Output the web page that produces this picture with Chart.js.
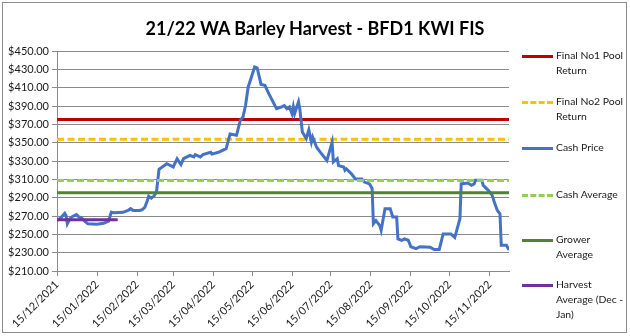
<!DOCTYPE html>
<html>
<head>
<meta charset="utf-8">
<script src="https://cdn.jsdelivr.net/npm/chart.js@4.4.1/dist/chart.umd.min.js"></script>
<style>
  html, body { margin: 0; padding: 0; background: #fff; }
  #wrap { position: relative; width: 630px; height: 336px; font-family: Lato, "Open Sans", sans-serif; }
  #frame { position: absolute; left: 2px; top: 2px; width: 623px; height: 329px; border: 1px solid #8c8c8c; pointer-events: none; }
  #title { position: absolute; left: 0; top: 17px; width: 630px; text-align: center; font-size: 18px; line-height: 22px; font-weight: bold; color: #000; }
  #legend { position: absolute; left: 522px; top: 0; width: 108px; }
  .item { position: absolute; left: 0; width: 106px; }
  .swatch { position: absolute; left: 0; width: 31px; height: 0; }
  .text { position: absolute; left: 34px; width: 72px; font-size: 10.4px; line-height: 15px; color: #1a1a1a; }
</style>
</head>
<body>
<div id="wrap">
  <canvas id="barleyChart" width="630" height="336"></canvas>
  <div id="title"></div>
  <div id="legend"></div>
  <div id="frame"></div>
</div>
<script>
const chartTitle = "21/22 WA Barley Harvest - BFD1 KWI FIS";

// cash price, read daily-ish through the season
const cashDates = [
  "2021-12-15", "2021-12-18", "2021-12-21", "2021-12-22", "2021-12-23", "2021-12-25",
  "2021-12-27", "2021-12-30", "2022-01-01", "2022-01-03", "2022-01-06", "2022-01-08",
  "2022-01-15", "2022-01-20", "2022-01-24", "2022-01-26", "2022-01-28", "2022-02-04",
  "2022-02-08", "2022-02-10", "2022-02-12", "2022-02-17", "2022-02-19", "2022-02-21",
  "2022-02-23", "2022-02-24", "2022-02-26", "2022-02-28", "2022-03-02", "2022-03-04",
  "2022-03-10", "2022-03-15", "2022-03-18", "2022-03-21", "2022-03-23", "2022-03-28",
  "2022-03-31", "2022-04-01", "2022-04-05", "2022-04-07", "2022-04-13", "2022-04-14",
  "2022-04-19", "2022-04-25", "2022-04-28", "2022-05-03", "2022-05-06", "2022-05-08",
  "2022-05-10", "2022-05-12", "2022-05-15", "2022-05-17", "2022-05-19", "2022-05-22",
  "2022-05-25", "2022-05-28", "2022-06-03", "2022-06-07", "2022-06-09", "2022-06-11",
  "2022-06-13", "2022-06-15", "2022-06-16", "2022-06-17", "2022-06-20", "2022-06-21",
  "2022-06-23", "2022-06-26", "2022-06-28", "2022-06-30", "2022-07-01", "2022-07-04",
  "2022-07-07", "2022-07-12", "2022-07-16", "2022-07-17", "2022-07-20", "2022-07-21",
  "2022-07-25", "2022-07-26", "2022-07-27", "2022-07-31", "2022-08-03", "2022-08-08",
  "2022-08-10", "2022-08-14", "2022-08-16", "2022-08-17", "2022-08-19", "2022-08-22",
  "2022-08-23", "2022-08-26", "2022-08-30", "2022-09-01", "2022-09-04", "2022-09-05",
  "2022-09-08", "2022-09-10", "2022-09-13", "2022-09-15", "2022-09-19", "2022-09-22",
  "2022-09-30", "2022-10-03", "2022-10-07", "2022-10-10", "2022-10-16", "2022-10-19",
  "2022-10-23", "2022-10-24", "2022-10-29", "2022-11-01", "2022-11-03", "2022-11-04",
  "2022-11-09", "2022-11-10", "2022-11-14", "2022-11-17", "2022-11-19", "2022-11-21",
  "2022-11-23", "2022-11-24", "2022-11-28", "2022-11-30"
];
const cashPrices = [
  265, 268, 273, 270.5, 261.5, 267,
  269.5, 271.5, 269, 268, 263.5, 261.5,
  261, 262, 264.5, 274, 273.5, 274,
  276, 278, 276, 276, 277, 279.5,
  287, 291.5, 289.5, 291.5, 296, 321,
  327, 323.5, 332.5, 326, 332.5, 336,
  334.5, 337, 334.5, 337, 339.5, 337.5,
  339.5, 343.5, 359.5, 358, 374.5, 378,
  390.5, 410.5, 423.5, 432.5, 431.5, 413.5,
  412.5, 403.5, 387, 389, 390.5, 387,
  389, 381.5, 389, 381.5, 394.5, 387,
  361.5, 354.5, 364, 350.5, 356, 345,
  339.5, 330.5, 350.5, 329, 332.5, 325,
  323.5, 320, 321.5, 316, 310.5, 310.5,
  307, 305, 300, 261.5, 265, 259.5,
  254.5, 278, 278, 269, 269, 245,
  243.5, 245, 243.5, 236.5, 234.5, 236.5,
  236, 233.5, 233.5, 250.5, 250.5, 246.5,
  267, 305, 306, 303.5, 305, 309,
  309, 303.5, 298, 292.5, 283.5, 276,
  272.5, 238, 238, 233
];

// flat reference levels
const poolNo1Return = 375.2;
const poolNo2Return = 353.6;
const cashAverage = 308.6;
const growerAverage = 295.5;
const harvestAverage = 266;
const harvestPeriod = ["2021-12-15", "2022-01-31"];
const seasonRange = ["2021-12-15", "2022-11-30"];

const xTickDates = [
  "2021-12-15", "2022-01-15", "2022-02-15", "2022-03-15", "2022-04-15", "2022-05-15",
  "2022-06-15", "2022-07-15", "2022-08-15", "2022-09-15", "2022-10-15", "2022-11-15"
];
const yTicks = [210, 230, 250, 270, 290, 310, 330, 350, 370, 390, 410, 430, 450];

const seriesNames = [
  "Final No1 Pool Return", "Final No2 Pool Return", "Cash Price",
  "Cash Average", "Grower Average", "Harvest Average (Dec - Jan)"
];

// days since the first date, so the x axis can stay linear
const DAY = 86400000;
const start = Date.parse(seasonRange[0]);
function dayOf(iso) { return Math.round((Date.parse(iso) - start) / DAY); }
function fmtDate(iso) {
  let p = iso.split("-");
  return p[2] + "/" + p[1] + "/" + p[0];
}
function flat(range, value) {
  return range.map(d => ({ x: dayOf(d), y: value }));
}

const cashPoints = cashDates.map((d, i) => ({ x: dayOf(d), y: cashPrices[i] }));
const xTickDays = xTickDates.map(dayOf);

const gridGrey = "#8a8a8a";
const fontFamily = "Lato, 'Open Sans', sans-serif";

document.getElementById("title").textContent = chartTitle;

let datasets = [
  { label: seriesNames[0], data: flat(seasonRange, poolNo1Return), borderColor: "#C00000", order: 6 },
  { label: seriesNames[1], data: flat(seasonRange, poolNo2Return), borderColor: "#FFC000", borderDash: [7, 3.5], order: 5 },
  { label: seriesNames[2], data: cashPoints, borderColor: "#4472C4", order: 4 },
  { label: seriesNames[3], data: flat(seasonRange, cashAverage), borderColor: "#92D050", borderDash: [7, 3], order: 3 },
  { label: seriesNames[4], data: flat(seasonRange, growerAverage), borderColor: "#548235", order: 2 },
  { label: seriesNames[5], data: flat(harvestPeriod, harvestAverage), borderColor: "#7030A0", order: 1 },
];
datasets.forEach(ds => {
  ds.borderWidth = 3;
  ds.pointRadius = 0;
  ds.tension = 0;
  ds.fill = false;
  ds.backgroundColor = ds.borderColor;
});

var ctx = document.getElementById("barleyChart").getContext("2d");
var myChart = new Chart(ctx, {
  type: "line",
  data: { datasets: datasets },
  options: {
    responsive: false,
    animation: false,
    layout: { padding: { left: 0, right: 121, top: 51, bottom: 0 } },
    plugins: {
      legend: { display: false },
      tooltip: { enabled: false },
      title: { display: false },
    },
    scales: {
      x: {
        type: "linear",
        min: 0,
        max: dayOf(seasonRange[1]),
        afterBuildTicks: (scale) => {
          scale.ticks = xTickDays.map(v => ({ value: v }));
        },
        afterFit: (scale) => { scale.height = 65; },
        ticks: {
          autoSkip: false,
          minRotation: 45,
          maxRotation: 45,
          padding: 2,
          color: "#1a1a1a",
          font: { family: fontFamily, size: 11 },
          callback: (v, i) => fmtDate(xTickDates[i]),
        },
        grid: { drawOnChartArea: false, drawTicks: true, tickLength: 5, color: gridGrey },
        border: { color: gridGrey },
      },
      y: {
        min: yTicks[0],
        max: yTicks[yTicks.length - 1],
        afterBuildTicks: (scale) => {
          scale.ticks = yTicks.map(v => ({ value: v }));
        },
        afterFit: (scale) => { scale.width = 57; },
        ticks: {
          padding: 3,
          color: "#1a1a1a",
          font: { family: fontFamily, size: 11 },
          callback: (v) => "$" + Number(v).toFixed(2),
        },
        grid: { color: gridGrey, tickLength: 5 },
        border: { color: gridGrey },
      },
    },
  },
});

// legend on the right, wrapped like the workbook one
const legendTops = [56, 102, 148, 195, 240, 285];
let legendBox = document.getElementById("legend");
myChart.data.datasets.forEach((ds, i) => {
  let item = document.createElement("div");
  item.className = "item";
  item.style.top = legendTops[i] + "px";

  let sw = document.createElement("div");
  sw.className = "swatch";
  sw.style.top = "-1.5px";
  sw.style.borderTop = "3px " + (ds.borderDash ? "dashed " : "solid ") + ds.borderColor;
  item.appendChild(sw);

  let tx = document.createElement("div");
  tx.className = "text";
  tx.style.top = "-8px";
  tx.textContent = ds.label;
  item.appendChild(tx);

  legendBox.appendChild(item);
});
</script>
</body>
</html>
